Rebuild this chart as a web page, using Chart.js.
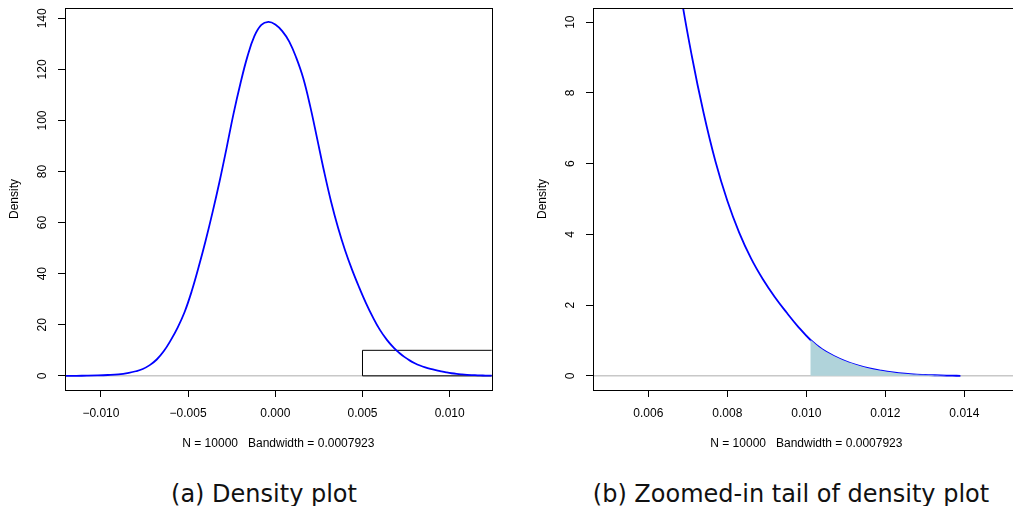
<!DOCTYPE html>
<html>
<head>
<meta charset="utf-8">
<script src="https://cdn.jsdelivr.net/npm/chart.js@4.4.1/dist/chart.umd.min.js"></script>
<style>
  html, body { margin: 0; padding: 0; background: #fff; }
  body { width: 1013px; height: 506px; overflow: hidden; position: relative; }
  canvas { position: absolute; top: 0; }
  #chartA { left: 0; }
  #chartB { left: 528px; }
  .caption {
    position: absolute; top: 482px; width: 500px; text-align: center;
    font-family: "DejaVu Sans", sans-serif; font-size: 24px; line-height: 24px;
    color: #111; white-space: nowrap;
  }
</style>
</head>
<body>
<canvas id="chartA" width="506" height="460"></canvas>
<canvas id="chartB" width="506" height="460"></canvas>
<div class="caption" style="left:14px">(a) Density plot</div>
<div class="caption" style="left:541px">(b) Zoomed-in tail of density plot</div>
<script>
// kernel density estimate
const densityX = [-0.0121, -0.0114, -0.0108, -0.0102, -0.0096, -0.0090, -0.0084,
  -0.0080, -0.0076, -0.0072, -0.0068, -0.0064, -0.0060, -0.0056, -0.0052, -0.0048, -0.0044,
  -0.0040, -0.0036, -0.0032, -0.0028, -0.0024, -0.0020, -0.0016, -0.0012, -0.0008, -0.0004,
  0.0000, 0.0004, 0.0008, 0.0012, 0.0016, 0.0020, 0.0024, 0.0028, 0.0032, 0.0036, 0.0040,
  0.0044, 0.0048, 0.0052, 0.0056, 0.0060, 0.0064, 0.0068, 0.0071, 0.0074, 0.0077, 0.0080,
  0.0083, 0.0086, 0.0089, 0.0092, 0.0095, 0.0098, 0.0101, 0.0104, 0.0107, 0.0110, 0.0113,
  0.0116, 0.0119, 0.0122, 0.0125, 0.0128, 0.0131, 0.0134, 0.0137, 0.0139];
const densityY = [0.01, 0.03, 0.08, 0.17, 0.33, 0.6, 1.2,
  1.8, 2.7, 4.2, 6.4, 9.6, 13.9, 18.9, 25.0, 33.0, 42.5,
  52.8, 64.0, 76.0, 89.0, 102.5, 114.5, 125.0, 133.0, 137.4, 138.6,
  137.6, 135.0, 130.9, 124.6, 116.6, 105.6, 92.9, 80.0, 68.2, 58.0, 49.2,
  41.6, 34.8, 28.5, 22.9, 18.0, 14.1, 10.95, 9.05, 7.43, 6.06, 4.95,
  4.05, 3.32, 2.73, 2.23, 1.79, 1.38, 1.02, 0.75, 0.56, 0.41, 0.30,
  0.21, 0.145, 0.095, 0.060, 0.037, 0.022, 0.012, 0.005, 0.0];

const xTicksA = [-0.010, -0.005, 0.000, 0.005, 0.010];
const yTicksA = [0, 20, 40, 60, 80, 100, 120, 140];
const xTicksB = [0.006, 0.008, 0.010, 0.012, 0.014];
const yTicksB = [0, 2, 4, 6, 8, 10];

// zoom rectangle drawn on panel (a)
const zoomBoxX = [0.005, 0.005, 0.015, 0.015, 0.005];
const zoomBoxY = [0, 10, 10, 0, 0];

const tailStart = 0.0101;   // shaded tail in panel (b)
const subtitle = 'N = 10000   Bandwidth = 0.0007923';

const AXIS_FONT = { family: '"Liberation Sans", Arial, sans-serif', size: 12 };

const curve = densityX.map((x, i) => ({ x, y: densityY[i] }));
const tail = curve.filter(p => p.x >= tailStart);
const zoomBox = zoomBoxX.map((x, i) => ({ x, y: zoomBoxY[i] }));

function fmt(v) {
  const s = Math.abs(v).toFixed(3);
  return v < -1e-12 ? '\u2212' + s : s;
}

// R-style extras: grey zero line, full frame, rotated y labels
const rStyle = {
  id: 'rStyle',
  beforeDatasetsDraw(chart) {
    const { ctx, chartArea: a, scales: { y } } = chart;
    const y0 = y.getPixelForValue(0);
    ctx.save();
    ctx.strokeStyle = '#c8c8c8';
    ctx.lineWidth = 1.5;
    ctx.beginPath();
    ctx.moveTo(a.left, y0);
    ctx.lineTo(a.right, y0);
    ctx.stroke();
    ctx.restore();
  },
  afterDraw(chart, args, opts) {
    const { ctx, chartArea: a, scales: { y } } = chart;
    ctx.save();
    ctx.strokeStyle = '#000';
    ctx.lineWidth = 1;
    ctx.strokeRect(Math.round(a.left) + 0.5, Math.round(a.top) + 0.5,
      Math.round(a.right - a.left), Math.round(a.bottom - a.top));
    ctx.fillStyle = '#000';
    ctx.font = `${AXIS_FONT.size}px ${AXIS_FONT.family}`;
    ctx.textAlign = 'center';
    ctx.textBaseline = 'middle';
    opts.yTicks.forEach(v => {
      ctx.save();
      ctx.translate(a.left - 22, y.getPixelForValue(v));
      ctx.rotate(-Math.PI / 2);
      ctx.fillText(String(v), 0, 0);
      ctx.restore();
    });
    ctx.restore();
  }
};

function makeChart(id, cfg) {
  const datasets = [];
  if (cfg.tail) {
    datasets.push({
      data: tail, showLine: true, pointRadius: 0, borderWidth: 0,
      backgroundColor: '#b0d3da', fill: 'origin', tension: 0.4, clip: 0
    });
  }
  datasets.push({
    data: curve, showLine: true, pointRadius: 0, borderColor: '#0000ff',
    borderWidth: 1.8, tension: 0.4, fill: false, clip: 0
  });
  if (cfg.box) {
    datasets.push({
      data: zoomBox, showLine: true, pointRadius: 0, borderColor: '#000',
      borderWidth: 1, tension: 0, fill: false, clip: 0
    });
  }

  return new Chart(document.getElementById(id), {
    type: 'scatter',
    data: { datasets },
    plugins: [rStyle],
    options: {
      responsive: false,
      animation: false,
      devicePixelRatio: 1,
      layout: { padding: { top: 8, right: 14.3, bottom: 0, left: 0 } },
      plugins: {
        legend: { display: false },
        tooltip: { enabled: false },
        rStyle: { yTicks: cfg.yTicks }
      },
      scales: {
        x: {
          type: 'linear', min: cfg.xMin, max: cfg.xMax,
          afterBuildTicks: s => { s.ticks = cfg.xTicks.map(v => ({ value: v })); },
          afterFit: s => { s.height = 70; },
          border: { display: false },
          grid: { drawOnChartArea: false, drawTicks: true, tickLength: 7, color: '#000', lineWidth: 1 },
          ticks: { autoSkip: false, maxRotation: 0, padding: 9, color: '#000', font: AXIS_FONT, callback: v => fmt(v) },
          title: { display: true, text: subtitle, color: '#000', font: AXIS_FONT, padding: { top: 0, bottom: 9 } }
        },
        y: {
          type: 'linear', min: cfg.yMin, max: cfg.yMax,
          afterBuildTicks: s => { s.ticks = cfg.yTicks.map(v => ({ value: v })); },
          afterFit: s => { s.width = 65; },
          border: { display: false },
          grid: { drawOnChartArea: false, drawTicks: true, tickLength: 7, color: '#000', lineWidth: 1 },
          ticks: { display: false },
          title: { display: true, text: 'Density', color: '#000', font: AXIS_FONT, padding: { top: 7, bottom: 0 } }
        }
      }
    }
  });
}

makeChart('chartA', {
  xMin: -0.01206, xMax: 0.01241, yMin: -5.54, yMax: 144.04,
  xTicks: xTicksA, yTicks: yTicksA, box: true
});
makeChart('chartB', {
  xMin: 0.0046, xMax: 0.0154, yMin: -0.4, yMax: 10.4,
  xTicks: xTicksB, yTicks: yTicksB, tail: true
});
</script>
</body>
</html>
